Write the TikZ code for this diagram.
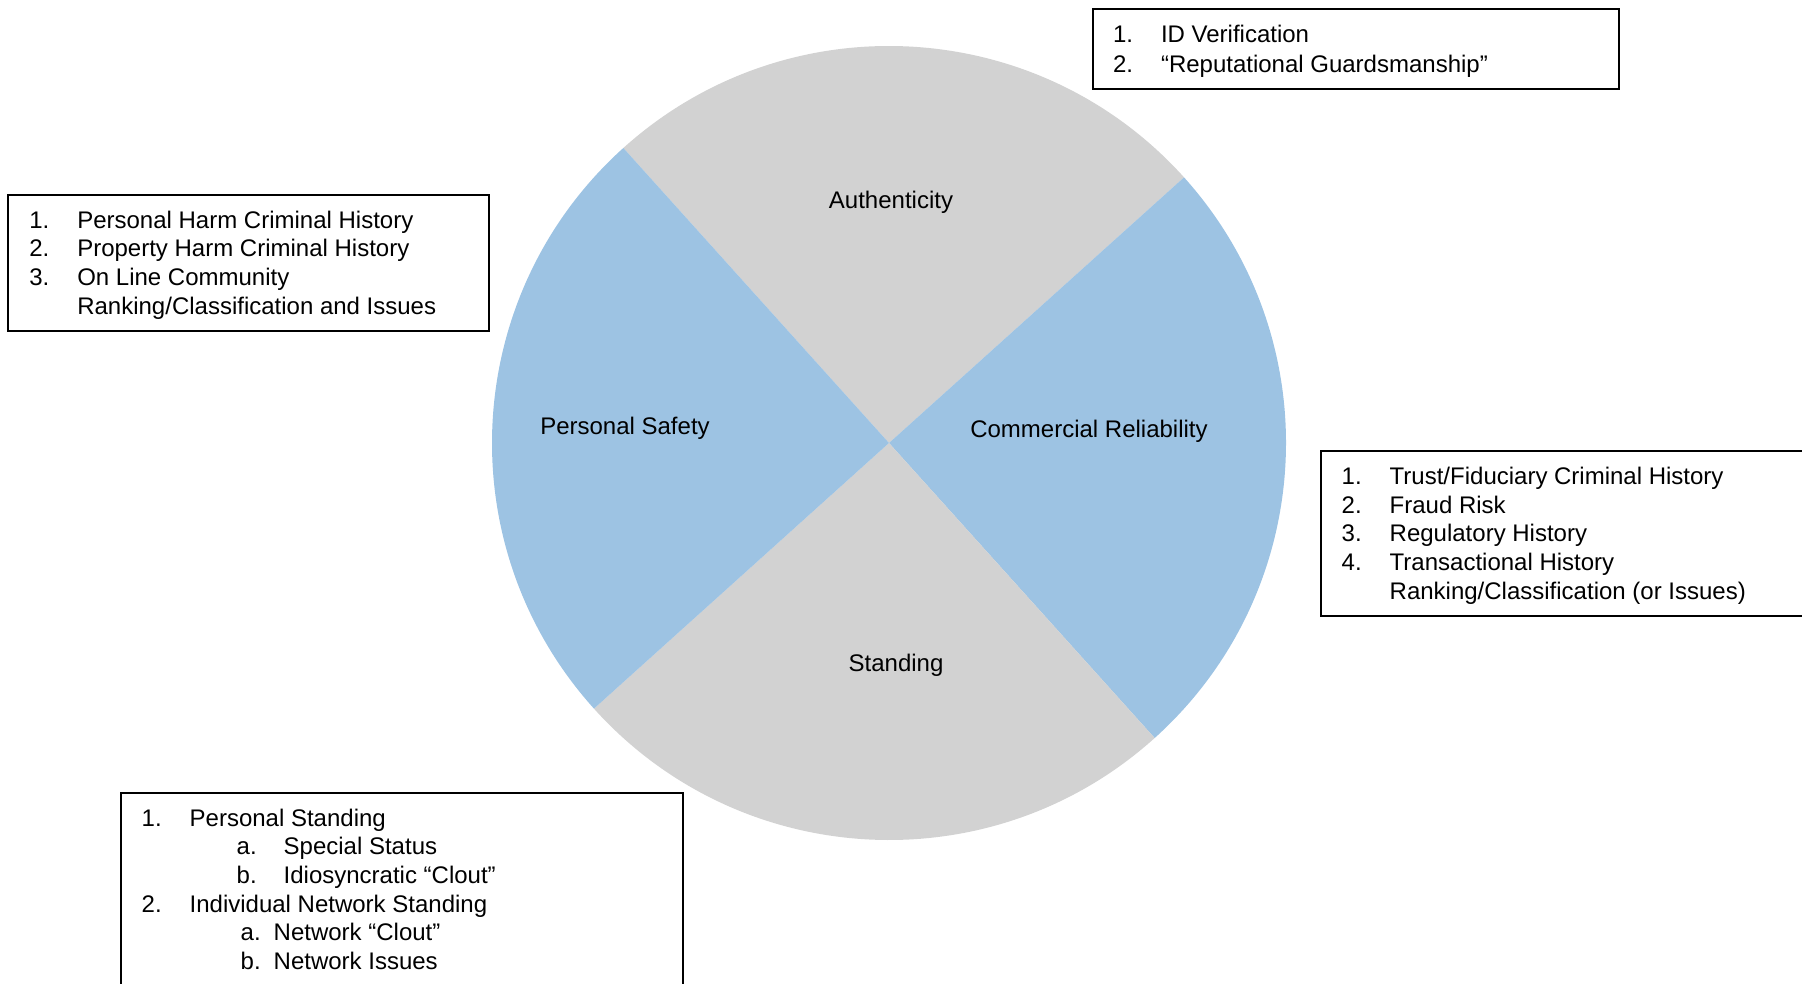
\documentclass[tikz,border=0pt]{standalone}
\usepackage{fontspec}
\setmainfont{Liberation Sans}

\definecolor{sectorblue}{HTML}{9DC3E3}
\definecolor{sectorgray}{HTML}{D2D2D2}

\tikzset{
  listbox/.style={draw=black, line width=2pt, fill=white, rectangle,
    inner sep=0pt, outer sep=0pt, anchor=north west},
  listtext/.style={anchor=base west, inner sep=0pt, outer sep=0pt,
    font=\fontsize{24}{28.7}\selectfont},
  sectorlabel/.style={anchor=base, inner sep=0pt,
    font=\fontsize{24}{28.7}\selectfont},
}
% numbered entry: fixed-width number column followed by the entry text
\newcommand{\numitem}[2]{\makebox[48pt][l]{#1}#2}

\begin{document}
\begin{tikzpicture}[x=1pt, y=-1pt]
\useasboundingbox (0,0) rectangle (1802,984);
\clip (0,0) rectangle (1802,984);

% the four quadrants of the disc
\coordinate (c) at (889,443);
\fill[sectorgray] (c) -- ++(-132:397) arc[start angle=-132, end angle=-42, radius=397] -- cycle;
\fill[sectorblue] (c) -- ++(-42:397) arc[start angle=-42, end angle=48, radius=397] -- cycle;
\fill[sectorgray] (c) -- ++(48:397) arc[start angle=48, end angle=138, radius=397] -- cycle;
\fill[sectorblue] (c) -- ++(138:397) arc[start angle=138, end angle=228, radius=397] -- cycle;

\node[sectorlabel] (auth)   at (891,209) {Authenticity};
\node[sectorlabel] (safety) at (625,434) {Personal Safety};
\node[sectorlabel] (comm)   at (1089,437) {Commercial Reliability};
\node[sectorlabel] (stand)  at (896,671) {Standing};

% Authenticity list
\node[listbox, minimum width=526pt, minimum height=80pt] (authbox) at (1093,9) {};
\node[listtext, font=\fontsize{24}{30}\selectfont] (authlist) at (1113,42.5) {%
  \begin{tabular}[t]{@{}l@{}}
  \numitem{1.}{ID Verification}\\
  \numitem{2.}{“Reputational Guardsmanship”}
  \end{tabular}};

% Personal Safety list
\node[listbox, minimum width=481pt, minimum height=136pt] (safetybox) at (8,195) {};
\node[listtext] (safetylist) at (29.3,228.3) {%
  \begin{tabular}[t]{@{}l@{}}
  \numitem{1.}{Personal Harm Criminal History}\\
  \numitem{2.}{Property Harm Criminal History}\\
  \numitem{3.}{On Line Community}\\
  \numitem{}{Ranking/Classification and Issues}
  \end{tabular}};

% Commercial Reliability list
\node[listbox, minimum width=520pt, minimum height=165pt] (commbox) at (1321,451) {};
\node[listtext] (commlist) at (1341.7,484.3) {%
  \begin{tabular}[t]{@{}l@{}}
  \numitem{1.}{Trust/Fiduciary Criminal History}\\
  \numitem{2.}{Fraud Risk}\\
  \numitem{3.}{Regulatory History}\\
  \numitem{4.}{Transactional History}\\
  \numitem{}{Ranking/Classification (or Issues)}
  \end{tabular}};

% Standing list
\node[listbox, minimum width=562pt, minimum height=210pt] (standbox) at (121,793) {};
\node[listtext] (standlist) at (141.7,826) {%
  \begin{tabular}[t]{@{}l@{}}
  \numitem{1.}{Personal Standing}\\
  \hspace*{95pt}\makebox[47pt][l]{a.}Special Status\\
  \hspace*{95pt}\makebox[47pt][l]{b.}Idiosyncratic “Clout”\\
  \numitem{2.}{Individual Network Standing}\\
  \hspace*{99pt}\makebox[33pt][l]{a.}Network “Clout”\\
  \hspace*{99pt}\makebox[33pt][l]{b.}Network Issues
  \end{tabular}};
\end{tikzpicture}
\end{document}
